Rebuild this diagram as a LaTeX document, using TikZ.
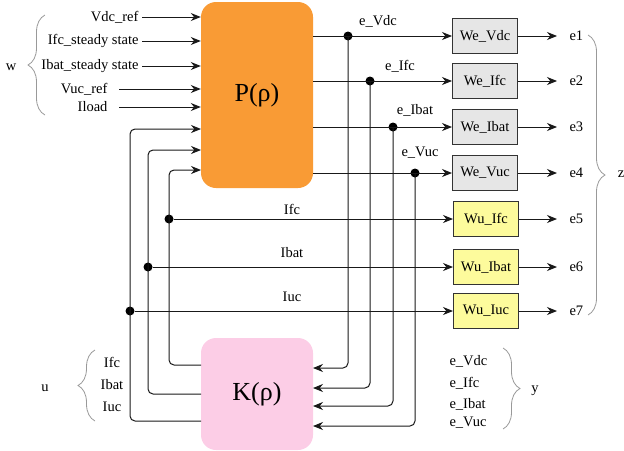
\documentclass[tikz,border=0pt]{standalone}
\usepackage{fontspec}
\setmainfont{Liberation Serif}
\usetikzlibrary{arrows.meta,decorations.pathreplacing}
\definecolor{porange}{HTML}{F99B35}
\definecolor{kpink}{HTML}{FCCDE6}
\definecolor{wegray}{HTML}{E6E6E6}
\definecolor{wuyellow}{HTML}{FDFB9C}
\begin{document}
\begin{tikzpicture}[x=1pt,y=-1pt,line cap=butt,line join=miter,>={Stealth[length=10pt,width=8pt]},
font=\fontsize{14.5}{16}\selectfont]
\tikzset{plant/.style={rounded corners=15pt,minimum width=112pt,minimum height=#1,font=\fontsize{26}{30}\selectfont},
wbox/.style={draw=black!80,line width=1pt,minimum width=65pt,minimum height=35pt,inner sep=0pt},
sig/.style={line width=1pt,black!90},
dot/.style={circle,fill=black,inner sep=0pt,minimum size=9pt},
br/.style={draw=black!40,line width=0.8pt,decorate,decoration={brace,amplitude=17pt}}
}
\useasboundingbox (0,0) rectangle (624,450);
\node[plant=186pt,fill=porange] (P) at (257,95) {P(ρ)};
\node[plant=112pt,fill=kpink] (K) at (257,394) {K(ρ)};
\node[anchor=east] (vdc) at (142,17) {Vdc\_ref};
\node[anchor=east] (ifcss) at (142,41) {Ifc\_steady state};
\node[anchor=east] (ibatss) at (142,66) {Ibat\_steady state};
\node[anchor=east] (vucr) at (111,89) {Vuc\_ref};
\node[anchor=east] (iload) at (111,107) {Iload};
\foreach \n in {vdc,ifcss,ibatss} \draw[sig,->] (\n.east) -- (\n.east -| P.west);
\foreach \n in {vucr,iload} \draw[sig,->] ([xshift=8pt]\n.east) -- (\n.east -| P.west);
\draw[br] (45,115) -- (45,15);
\node (w) at (11,67) {w};
\foreach \i/\y/\x/\ky/\t/\s/\lx/\ly in {1/36/348/368/Vdc/Vdc/378/21,2/81/370/388/Ifc/Ifc/400/66,3/127/393/406/Ibat/Ibat/415/110,4/173/415/426/Vuc/Vuc/420/153}{
\node[wbox,fill=wegray] (We\i) at (485,\y) {We\_\t};
\node[dot] (d\i) at (\x,\y) {};
\coordinate (kin\i) at (313,\ky);
\node (le\i) at (\lx,\ly) {e\_\s};
\node[anchor=west] (e\i) at (566,\y) {e\i};
\draw[sig,->] (P.east |- d\i) -- (We\i.west);
\draw[sig,->,rounded corners=5pt] (d\i.center) |- (kin\i);
\draw[sig,->] (We\i.east) -- ([xshift=-9pt]e\i.west);
}
\foreach \i/\y/\x/\ky/\py/\t/\ly in {5/219/169/365/170/Ifc/209,6/267/148/394/150/Ibat/253,7/311/130/421/129/Iuc/297}{
\node[wbox,fill=wuyellow] (Wu\i) at (486,\y) {Wu\_\t};
\node[dot] (du\i) at (\x,\y) {};
\coordinate (kout\i) at (201,\ky);
\coordinate (pin\i) at (201,\py);
\node (lu\i) at (292,\ly) {\t};
\node[anchor=west] (e\i) at (566,\y) {e\i};
\draw[sig,->,rounded corners=5pt] (kout\i) -| (du\i.center) |- (pin\i);
\draw[sig,->] (du\i) -- (Wu\i.west);
\draw[sig,->] (Wu\i.east) -- ([xshift=-9pt]e\i.west);
}
\draw[br] (588,35) -- (588,315);
\node (z) at (621,174) {z};
\node (ku1) at (112,362) {Ifc};
\node (ku2) at (112,385) {Ibat};
\node (ku3) at (112,407) {Iuc};
\draw[br] (95,421) -- (95,350);
\node (u) at (45,388) {u};
\node[anchor=west] (ky1) at (446,361) {e\_Vdc};
\node[anchor=west] (ky2) at (446,383) {e\_Ifc};
\node[anchor=west] (ky3) at (446,404) {e\_Ibat};
\node[anchor=west] (ky4) at (446,423) {e\_Vuc};
\draw[br] (503,348) -- (503,429);
\node (y) at (535,391) {y};
\end{tikzpicture}
\end{document}
